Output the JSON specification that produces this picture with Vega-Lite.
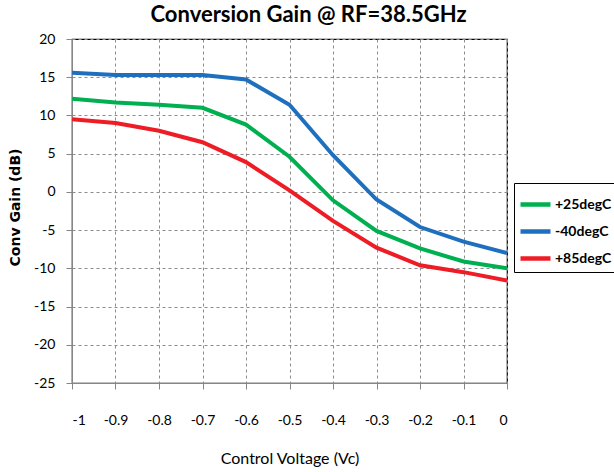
{
  "$schema": "https://vega.github.io/schema/vega-lite/v6.json",
  "width": 435,
  "height": 344,
  "autosize": {"type": "none"},
  "padding": {"left": 72, "top": 39, "right": 107, "bottom": 89},
  "background": "white",
  "title": {
    "text": "Conversion Gain @ RF=38.5GHz",
    "font": "Lato, sans-serif",
    "fontSize": 22,
    "fontWeight": "bold",
    "color": "black",
    "anchor": "middle",
    "dx": 19,
    "offset": 5
  },
  "config": {
    "view": {"stroke": "black", "strokeWidth": 1.2},
    "axis": {
      "labelFont": "Lato, sans-serif",
      "labelFontSize": 14,
      "labelColor": "black",
      "domainColor": "#868686",
      "tickColor": "#868686",
      "tickSize": 6,
      "gridColor": "#8c8c8c",
      "gridDash": [3, 3],
      "gridWidth": 1
    }
  },
  "data": {
    "values": [
      {"vc": -1, "gain": 12.2, "temp": "+25degC"},
      {"vc": -0.9, "gain": 11.7, "temp": "+25degC"},
      {"vc": -0.8, "gain": 11.4, "temp": "+25degC"},
      {"vc": -0.7, "gain": 11.0, "temp": "+25degC"},
      {"vc": -0.6, "gain": 8.8, "temp": "+25degC"},
      {"vc": -0.5, "gain": 4.6, "temp": "+25degC"},
      {"vc": -0.4, "gain": -1.1, "temp": "+25degC"},
      {"vc": -0.3, "gain": -5.1, "temp": "+25degC"},
      {"vc": -0.2, "gain": -7.4, "temp": "+25degC"},
      {"vc": -0.1, "gain": -9.1, "temp": "+25degC"},
      {"vc": 0, "gain": -10.0, "temp": "+25degC"},
      {"vc": -1, "gain": 15.6, "temp": "-40degC"},
      {"vc": -0.9, "gain": 15.3, "temp": "-40degC"},
      {"vc": -0.8, "gain": 15.3, "temp": "-40degC"},
      {"vc": -0.7, "gain": 15.3, "temp": "-40degC"},
      {"vc": -0.6, "gain": 14.7, "temp": "-40degC"},
      {"vc": -0.5, "gain": 11.4, "temp": "-40degC"},
      {"vc": -0.4, "gain": 4.8, "temp": "-40degC"},
      {"vc": -0.3, "gain": -1.0, "temp": "-40degC"},
      {"vc": -0.2, "gain": -4.6, "temp": "-40degC"},
      {"vc": -0.1, "gain": -6.5, "temp": "-40degC"},
      {"vc": 0, "gain": -8.0, "temp": "-40degC"},
      {"vc": -1, "gain": 9.5, "temp": "+85degC"},
      {"vc": -0.9, "gain": 9.0, "temp": "+85degC"},
      {"vc": -0.8, "gain": 8.0, "temp": "+85degC"},
      {"vc": -0.7, "gain": 6.5, "temp": "+85degC"},
      {"vc": -0.6, "gain": 3.9, "temp": "+85degC"},
      {"vc": -0.5, "gain": 0.2, "temp": "+85degC"},
      {"vc": -0.4, "gain": -3.8, "temp": "+85degC"},
      {"vc": -0.3, "gain": -7.3, "temp": "+85degC"},
      {"vc": -0.2, "gain": -9.6, "temp": "+85degC"},
      {"vc": -0.1, "gain": -10.5, "temp": "+85degC"},
      {"vc": 0, "gain": -11.6, "temp": "+85degC"}
    ]
  },
  "mark": {"type": "line", "strokeWidth": 4, "clip": true},
  "encoding": {
    "x": {
      "field": "vc",
      "type": "quantitative",
      "scale": {"domain": [-1, 0], "nice": false, "zero": false},
      "axis": {
        "values": [-1, -0.9, -0.8, -0.7, -0.6, -0.5, -0.4, -0.3, -0.2, -0.1, 0],
        "labelExpr": "'' + datum.value",
        "labelPadding": 24,
        "title": "Control Voltage (Vc)",
        "titleFont": "Lato, sans-serif",
        "titleFontSize": 16,
        "titleFontWeight": "normal",
        "titleColor": "black",
        "titleX": 217.5,
        "titleY": 80,
        "titleBaseline": "alphabetic",
        "titleAnchor": "middle"
      }
    },
    "y": {
      "field": "gain",
      "type": "quantitative",
      "scale": {"domain": [-25, 20], "nice": false, "zero": false},
      "axis": {
        "values": [-25, -20, -15, -10, -5, 0, 5, 10, 15, 20],
        "labelExpr": "'' + datum.value",
        "labelPadding": 11,
        "title": "Conv Gain (dB)",
        "titleFont": "DejaVu Sans, sans-serif",
        "titleFontSize": 14,
        "titleFontWeight": "bold",
        "titleColor": "black",
        "titleAngle": -90,
        "titleX": -57,
        "titleY": 168,
        "titleAlign": "center",
        "titleBaseline": "middle",
        "titleAnchor": "middle"
      }
    },
    "color": {
      "field": "temp",
      "type": "nominal",
      "scale": {
        "domain": ["+25degC", "-40degC", "+85degC"],
        "range": ["#00B050", "#1F6FBF", "#EE1C25"]
      },
      "legend": {
        "title": null,
        "orient": "none",
        "legendX": 442,
        "legendY": 144,
        "strokeColor": "black",
        "padding": 4,
        "symbolType": "stroke",
        "symbolSize": 900,
        "symbolStrokeWidth": 4.5,
        "rowPadding": -7,
        "labelOffset": 2,
        "labelFont": "Lato, sans-serif",
        "labelFontSize": 14,
        "labelFontWeight": "bold",
        "labelColor": "black"
      }
    }
  }
}
